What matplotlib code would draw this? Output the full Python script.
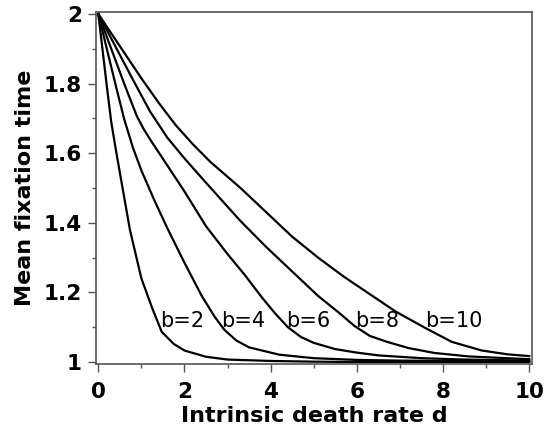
import matplotlib
matplotlib.use("Agg")
import matplotlib.pyplot as plt
from matplotlib.ticker import MultipleLocator

# values
birth_rates = [2, 4, 6, 8, 10]

d_b2 = [0, 0.2, 0.3, 0.4, 0.53, 0.735, 1.0, 1.25, 1.47, 1.75, 2.0, 2.5, 3.0, 4.0, 5.0, 6.0, 8.0, 10.0]
t_b2 = [2.0, 1.79, 1.69, 1.615, 1.523, 1.379, 1.24, 1.155, 1.087, 1.052, 1.033, 1.015, 1.007,
        1.003, 1.001, 1.0, 1.0, 1.0]

d_b4 = [0, 0.4, 0.6, 0.8, 1.0, 1.3, 1.6, 2.0, 2.4, 2.7, 2.93, 3.2, 3.5, 4.2, 5.0, 6.0, 7.0, 8.0, 10.0]
t_b4 = [2.0, 1.797, 1.698, 1.617, 1.55, 1.465, 1.385, 1.285, 1.19, 1.13, 1.092, 1.062, 1.042,
        1.021, 1.011, 1.006, 1.004, 1.003, 1.002]

d_b6 = [0, 0.6, 0.75, 0.9, 1.05, 1.2, 1.6, 2.0, 2.5, 3.0, 3.4, 3.8, 4.1, 4.4, 4.7, 5.0, 5.5,
        6.0, 6.5, 7.5, 8.5, 10.0]
t_b6 = [2.0, 1.80, 1.752, 1.705, 1.67, 1.64, 1.565, 1.49, 1.39, 1.31, 1.25, 1.185, 1.14, 1.10,
        1.072, 1.055, 1.037, 1.027, 1.019, 1.011, 1.007, 1.004]

d_b8 = [0, 0.8, 1.2, 1.6, 2.0, 2.5, 2.9, 3.3, 3.9, 4.5, 5.1, 5.6, 5.95, 6.3, 6.7, 7.2, 7.8, 8.6, 10.0]
t_b8 = [2.0, 1.812, 1.72, 1.645, 1.585, 1.515, 1.46, 1.405, 1.33, 1.26, 1.19, 1.14, 1.103,
        1.075, 1.058, 1.04, 1.026, 1.016, 1.008]

d_b10 = [0, 1.0, 1.4, 1.8, 2.2, 2.6, 3.3, 3.9, 4.5, 5.1, 5.7, 6.3, 6.9, 7.6, 8.2, 8.9, 9.5, 10.0]
t_b10 = [2.0, 1.815, 1.745, 1.68, 1.625, 1.575, 1.50, 1.43, 1.36, 1.30, 1.245, 1.195, 1.145,
         1.097, 1.058, 1.033, 1.022, 1.017]

curves_d = [d_b2, d_b4, d_b6, d_b8, d_b10]
curves_t = [t_b2, t_b4, t_b6, t_b8, t_b10]

# where each "b=..." label sits
label_x = [1.43, 2.86, 4.37, 5.96, 7.58]
label_y = 1.118

fig = plt.figure(figsize=(5.47, 4.28), dpi=100)
ax = fig.add_axes([0.175, 0.1507, 0.798, 0.822])

for d, t in zip(curves_d, curves_t):
    ax.plot(d, t, color="black", lw=1.6)

for b, x in zip(birth_rates, label_x):
    ax.text(x, label_y, "b=%d" % b, fontsize=15, family="DejaVu Sans",
            ha="left", va="center")

ax.set_xlim(-0.06, 10.07)
ax.set_ylim(0.9957, 2.0066)

ax.xaxis.set_major_locator(MultipleLocator(2))
ax.xaxis.set_minor_locator(MultipleLocator(1))
ax.yaxis.set_minor_locator(MultipleLocator(0.1))
ax.set_yticks([1, 1.2, 1.4, 1.6, 1.8, 2])
ax.set_yticklabels(["1", "1.2", "1.4", "1.6", "1.8", "2"])

for s in ax.spines.values():
    s.set_color("#555555")
    s.set_linewidth(1.2)

ax.tick_params(which="major", direction="out", length=6, width=1, color="#555555",
               labelsize=15.5)
ax.tick_params(which="minor", direction="out", length=3, width=1, color="#555555")
ax.tick_params(axis="x", which="major", pad=7)
ax.tick_params(axis="y", which="major", pad=4)
for lab in ax.get_xticklabels() + ax.get_yticklabels():
    lab.set_fontweight("bold")

ax.set_xlabel("Intrinsic death rate d", fontsize=16, fontweight="bold", labelpad=3)
ax.set_ylabel("Mean fixation time", fontsize=16, fontweight="bold", labelpad=6)

fig.savefig("out.png", dpi=100)
